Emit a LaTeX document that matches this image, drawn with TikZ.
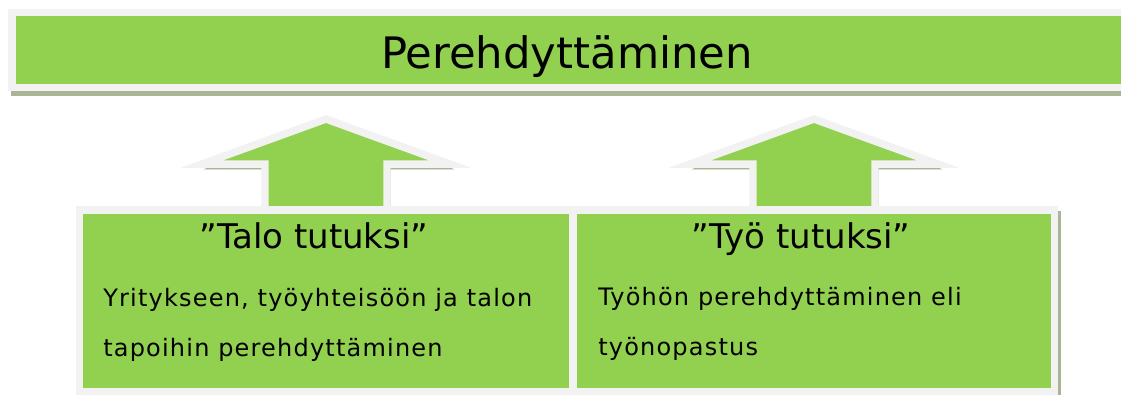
\documentclass[tikz,border=0pt]{standalone}
\usepackage{fontspec}
\setmainfont{DejaVu Sans}
\newfontfamily\spacedfont[LetterSpace=5]{DejaVu Sans}
\usepackage{tikz}
\usetikzlibrary{positioning,backgrounds}
\definecolor{leafgreen}{RGB}{146,208,80}
\definecolor{framegray}{RGB}{242,242,242}
\definecolor{shadowgray}{RGB}{170,181,152}
\tikzset{
	slab/.style={
		% The border:
		line width=5.6pt,line join=miter,
		draw=framegray,
		% The filling:
		fill=leafgreen,
		% The shadow, a little down and to the right
		preaction={draw=shadowgray,fill=shadowgray,
			transform canvas={xshift=2.25pt,yshift=-3.75pt}},
	}}
\tikzset{
	banner/.style={
		% The shape:
		slab,rectangle,inner sep=0pt,
		% The size:
		minimum width=840pt,minimum height=55.9pt,
	},
	card/.style={
		slab,rectangle,inner sep=0pt,
		minimum height=136.1pt,
	},
	bannertext/.style={font=\fontsize{32.5pt}{38pt}\selectfont,inner sep=0pt},
	cardhead/.style={font=\fontsize{25.5pt}{30pt}\selectfont,inner sep=0pt},
	cardtext/.style={font=\spacedfont\fontsize{18pt}{37.5pt}\selectfont,
		align=left,inner sep=0pt},
	lift/.pic={
		\draw[slab] (-61,10) -- (-61,-42) -- (-124,-42) -- (0,-87)
			-- (124,-42) -- (61,-42) -- (61,10) -- cycle;
	}}

\begin{document}
\begin{tikzpicture}[x=0.75pt,y=-0.75pt]
	\useasboundingbox (0,0) rectangle (1121,394);
	\node[banner] (title) at (572,50) {};
	\node[bannertext,anchor=base] (titletext) at ([shift={(-5,18)}]title.center) {Perehdyttäminen};
	\node[card,minimum width=369.4pt] (talo) at (326,300.5) {};
	\node[card,minimum width=360.4pt,right=-4.5pt of talo] (tyo) {};
	% the arrows go up behind the boxes
	\begin{scope}[on background layer]
		\pic at (talo.north) {lift};
		\pic at (tyo.north) {lift};
	\end{scope}
	\node[cardhead,anchor=base] (talohead) at ([shift={(-12,42)}]talo.north) {”Talo tutuksi”};
	\node[cardhead,anchor=base] (tyohead) at ([shift={(-13,42)}]tyo.north) {”Työ tutuksi”};
	% base is the baseline of the last line
	\node[cardtext,anchor=base west] (talotext) at ([shift={(27,150)}]talo.north west)
		{Yritykseen, työyhteisöön ja talon\\tapoihin perehdyttäminen};
	\node[cardtext,anchor=base west] (tyotext) at ([shift={(28,149)}]tyo.north west)
		{Työhön perehdyttäminen eli\\työnopastus};
\end{tikzpicture}
\end{document}
